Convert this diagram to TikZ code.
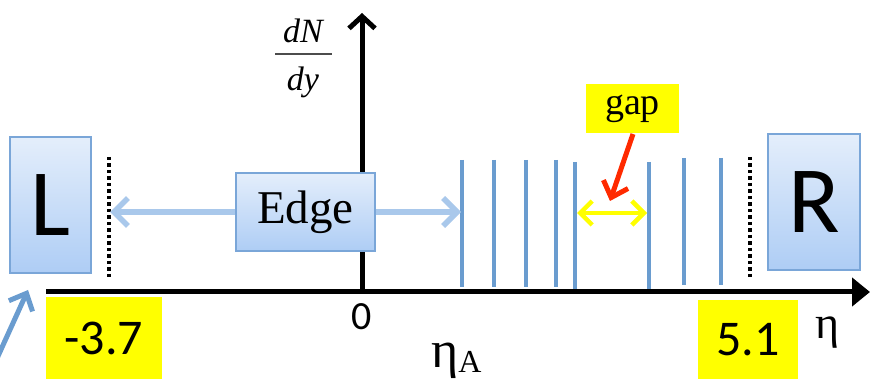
\documentclass[tikz,border=0pt]{standalone}
\usepackage{fontspec}
\setmainfont{Liberation Serif}
\newfontfamily\calib{Carlito}
\usetikzlibrary{arrows.meta}
\definecolor{boxedge}{HTML}{7AA6D8}
\definecolor{boxtop}{HTML}{E4EEFB}
\definecolor{boxbot}{HTML}{AECDF5}
\definecolor{lightarrow}{HTML}{A9C8EB}
\definecolor{barblue}{HTML}{6A9CCF}
\definecolor{gapyellow}{HTML}{FFFF00}
\definecolor{gapred}{HTML}{FF2A00}
\tikzset{
  bluebox/.style={draw=boxedge, line width=1.5pt, top color=boxtop, bottom color=boxbot, inner sep=0pt},
  ylabel/.style={fill=gapyellow, inner sep=0pt},
  axisline/.style={line width=5pt, black},
  barline/.style={line width=4.5pt, barblue},
  dotline/.style={line width=4.5pt, black, dash pattern=on 3.5pt off 3pt},
  lightarr/.style={line width=5.5pt, lightarrow, -{Straight Barb[length=14pt,width=28pt]}},
  yelarr/.style={line width=4.5pt, gapyellow, {Straight Barb[length=12pt,width=24pt]}-{Straight Barb[length=12pt,width=24pt]}},
  redarr/.style={line width=5pt, gapred, -{Straight Barb[length=14pt,width=26pt]}},
  bluearr/.style={line width=5pt, barblue, -{Straight Barb[length=14pt,width=26pt]}}
}
\begin{document}
\begin{tikzpicture}[x=1pt,y=-1pt]
\useasboundingbox (0,0) rectangle (870,379);
% axes
\coordinate (xs) at (46,292);
\coordinate (xe) at (870,292);
\coordinate (o) at (362,294);
\coordinate (ye) at (362,13);
\draw[axisline, -{Triangle[length=18pt,width=28pt]}] (xs) -- (xe);
\draw[axisline, -{Straight Barb[length=12pt,width=26pt]}] (o) -- (ye);
% dN/dy
\node[font=\fontsize{34}{34}\selectfont\itshape] (dN) at (303,31) {dN};
\node[font=\fontsize{34}{34}\selectfont\itshape] (dy) at (303,82) {dy};
\draw[line width=1.5pt, black!70] (275,54) -- (332,54);
% dotted lines
\draw[dotline] (109,157) -- (109,279);
\draw[dotline] (750,157) -- (750,279);
% blue bars
\foreach \x/\t/\b in {462/160/287, 494/160/287, 526/160/287, 556/160/287, 575/162/289, 649/162/289, 684/158/285, 721/158/285}
  \draw[barline] (\x,\t) -- (\x,\b);
% boxes
\node[bluebox, minimum width=81pt, minimum height=136pt, font=\calib\fontsize{95}{95}\selectfont] (L) at (50.5,205) {L};
\node[bluebox, minimum width=92pt, minimum height=136pt, font=\calib\fontsize{95}{95}\selectfont] (R) at (814,202) {R};
\node[bluebox, minimum width=139pt, minimum height=78pt, font=\fontsize{47}{47}\selectfont] (E) at (305.5,212) {Edge};
% edge arrows
\coordinate (dl) at (110,212);
\coordinate (b1) at (461,212);
\draw[lightarr] (E.west) -- (dl);
\draw[lightarr] (E.east) -- (b1);
% gap
\node[ylabel, minimum width=93pt, minimum height=49pt, font=\fontsize{38}{38}\selectfont] (gap) at (632.5,108.5) {gap};
\coordinate (g1) at (577,213);
\coordinate (g2) at (647,213);
\draw[yelarr] (g1) -- (g2);
\coordinate (gt) at (610,201);
\draw[redarr] (633,134) -- (gt);
% value labels
\node[ylabel, minimum width=116pt, minimum height=82pt, font=\calib\fontsize{50}{50}\selectfont] (m37) at (104,338) {-3.7};
\node[ylabel, minimum width=100pt, minimum height=80pt, font=\calib\fontsize{50}{50}\selectfont] (p51) at (748,340) {5.1};
\node[font=\calib\fontsize{40}{40}\selectfont] (zero) at (362,317) {0};
\node[font=\fontsize{46}{46}\selectfont] (eta) at (828,333) {η};
\node[font=\fontsize{52}{52}\selectfont, anchor=base west, inner sep=0pt] (etaA) at (431,367) {η\raisebox{-0.25ex}{\fontsize{32}{32}\selectfont A}};
% lower-left arrow
\coordinate (lt) at (28,290);
\draw[bluearr] (-6,365) -- (lt);
\end{tikzpicture}
\end{document}
